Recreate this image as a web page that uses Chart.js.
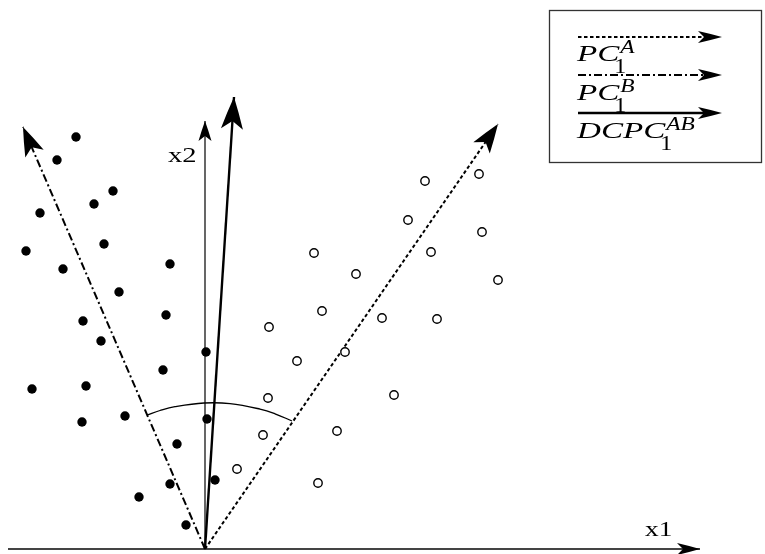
<!DOCTYPE html>
<html><head><meta charset="utf-8">
<script src="https://cdn.jsdelivr.net/npm/chart.js@4/dist/chart.umd.min.js"></script>
<style>html,body{margin:0;padding:0;background:#fff}</style>
</head><body>
<canvas id="c" width="765" height="554"></canvas>
<script>
// ---- data (x1, x2 in plot units; origin at the arrows' common start) ----
const classA_x1 = [-12.9,-14.8,-9.2,-11.1,-16.5,-10.1,-17.9,-14.2,-3.5,-8.6,-3.9,-12.2,-10.4,0.1,-4.2,-17.3,-11.9,-8.0,-12.3,0.2,-2.8,1.0,-3.5,-6.6,-1.9];
const classA_x2 = [41.2,38.9,35.8,34.5,33.6,30.5,29.8,28.0,28.5,25.7,23.4,22.8,20.8,19.7,17.9,16.0,16.3,13.3,12.7,13.0,10.5,6.9,6.5,5.2,2.4];
const classB_x1 = [22.0,27.4,20.3,27.7,10.9,22.6,15.1,29.3,11.7,17.7,23.2,6.4,14.0,9.2,18.9,6.3,13.2,5.8,3.2,11.3];
const classB_x2 = [36.8,37.5,32.9,31.7,29.6,29.7,27.5,26.9,23.8,23.1,23.0,22.2,19.7,18.8,15.4,15.1,11.8,11.4,8.0,6.6];
const arrowLabels = ['PC1A','PC1B','DCPC1AB'];
const arrowTipX1 = [29.3,-18.2,2.9];
const arrowTipX2 = [42.5,42.2,45.2];
const axisX1Range = [-19.7,49.5];
const axisX2Range = [0,42.8];
const arcX1 = [-5.8,-4.5,-3.0,-0.1,2.5,5.5,7.0,8.7];
const arcX2 = [13.4,13.85,14.23,14.6,14.54,13.99,13.52,12.8];
const legendBase = ['PC','PC','DCPC'];
const legendSup = ['A','B','AB'];
const legendSub = ['1','1','1'];
const axisLabels = ['x1','x2'];

const SERIF = '"Liberation Serif", "DejaVu Serif", serif';
const pts = (xs, ys) => xs.map((x,i)=>({x, y: ys[i]}));

function drawHead(ctx, x0, y0, x1, y1, h) {
  const ang = Math.atan2(y1 - y0, x1 - x0);
  ctx.save();
  ctx.translate(x1, y1);
  ctx.rotate(ang);
  ctx.beginPath();
  ctx.moveTo(0, 0);
  ctx.quadraticCurveTo(-h.len*0.5, -h.half*0.55, -h.len, -h.half);
  ctx.lineTo(-h.len + h.notch, 0);
  ctx.lineTo(-h.len, h.half);
  ctx.quadraticCurveTo(-h.len*0.5, h.half*0.55, 0, 0);
  ctx.closePath();
  ctx.fillStyle = '#000';
  ctx.fill();
  ctx.restore();
}

const arrowPlugin = {
  id: 'arrowHeads',
  afterDatasetsDraw(chart) {
    const ctx = chart.ctx;
    chart.data.datasets.forEach((ds, i) => {
      if (!ds.head) return;
      const d = chart.getDatasetMeta(i).data;
      const a = d[d.length - 2], b = d[d.length - 1];
      drawHead(ctx, a.x, a.y, b.x, b.y, ds.head);
    });
  }
};

function stretchText(ctx, str, x, y, font, sx) {
  ctx.save();
  ctx.font = font;
  ctx.translate(x, y);
  ctx.scale(sx, 1);
  ctx.fillText(str, 0, 0);
  const w = ctx.measureText(str).width * sx;
  ctx.restore();
  return w;
}

const textPlugin = {
  id: 'texts',
  afterDraw(chart) {
    const ctx = chart.ctx;
    ctx.save();
    ctx.fillStyle = '#000';
    ctx.textBaseline = 'alphabetic';
    // axis labels
    stretchText(ctx, axisLabels[0], 645, 536, '21px ' + SERIF, 1.3);
    stretchText(ctx, axisLabels[1], 168, 162, '22px ' + SERIF, 1.3);
    // legend box
    ctx.strokeStyle = '#333';
    ctx.lineWidth = 1.3;
    ctx.strokeRect(549.5, 10.5, 212, 152);
    const lineY = [37, 75, 113];
    const baseY = [61, 100, 138];
    const arrowDs = chart.data.datasets.filter(d => d.legendRow !== undefined);
    arrowDs.forEach(ds => {
      const r = ds.legendRow;
      ctx.save();
      ctx.strokeStyle = '#000';
      ctx.lineWidth = ds.borderWidth;
      ctx.setLineDash(ds.borderDash || []);
      ctx.beginPath();
      ctx.moveTo(578, lineY[r]);
      ctx.lineTo(710, lineY[r]);
      ctx.stroke();
      ctx.restore();
      drawHead(ctx, 578, lineY[r], 722, lineY[r], {len: 24, half: 6, notch: 6});
      const w = stretchText(ctx, legendBase[r], 577, baseY[r], 'italic 24px ' + SERIF, 1.38);
      stretchText(ctx, legendSub[r], 577 + w - 5, baseY[r] + 12, '20px ' + SERIF, 1.2);
      stretchText(ctx, legendSup[r], 577 + w + 1, baseY[r] - 8, 'italic 18px ' + SERIF, 1.3);
    });
    ctx.restore();
  }
};

const datasets = [
  { type: 'scatter', label: 'A', data: pts(classA_x1, classA_x2),
    pointRadius: 4.7, backgroundColor: '#000', borderColor: '#000', borderWidth: 0 },
  { type: 'scatter', label: 'B', data: pts(classB_x1, classB_x2),
    pointRadius: 4.2, backgroundColor: '#fff', borderColor: '#000', borderWidth: 1.4 },
  { type: 'line', label: 'arc', data: pts(arcX1, arcX2), borderColor: '#000', borderWidth: 1.3,
    pointRadius: 0, tension: 0.4, fill: false },
  { type: 'line', label: arrowLabels[0], data: [{x:0,y:0},{x:arrowTipX1[0],y:arrowTipX2[0]}],
    borderColor: '#000', borderWidth: 2, borderDash: [3.5,2.5], pointRadius: 0, legendRow: 0,
    head: {len: 29, half: 10, notch: 7} },
  { type: 'line', label: arrowLabels[1], data: [{x:0,y:0},{x:arrowTipX1[1],y:arrowTipX2[1]}],
    borderColor: '#000', borderWidth: 2, borderDash: [8,3,2,3], pointRadius: 0, legendRow: 1,
    head: {len: 29, half: 10, notch: 7} },
  { type: 'line', label: arrowLabels[2], data: [{x:0,y:0},{x:arrowTipX1[2],y:arrowTipX2[2]}],
    borderColor: '#000', borderWidth: 2.4, pointRadius: 0, legendRow: 2,
    head: {len: 32, half: 11, notch: 8} },
  { type: 'line', label: 'x2 axis', data: [{x:0,y:axisX2Range[0]},{x:0,y:axisX2Range[1]}],
    borderColor: '#000', borderWidth: 1.2, pointRadius: 0,
    head: {len: 20, half: 6.5, notch: 5} },
  { type: 'line', label: 'x1 axis', data: [{x:axisX1Range[0],y:0},{x:axisX1Range[1],y:0}],
    borderColor: '#444', borderWidth: 2, pointRadius: 0,
    head: {len: 23, half: 6, notch: 6} }
];

new Chart(document.getElementById('c'), {
  data: { datasets },
  options: {
    responsive: false,
    animation: false,
    layout: { padding: 0, autoPadding: false },
    clip: false,
    plugins: { legend: { display: false }, tooltip: { enabled: false } },
    scales: {
      x: { type: 'linear', min: -20.5, max: 56.0, display: false },
      y: { type: 'linear', min: -0.5, max: 54.9, display: false }
    }
  },
  plugins: [arrowPlugin, textPlugin]
});
</script>
</body></html>
